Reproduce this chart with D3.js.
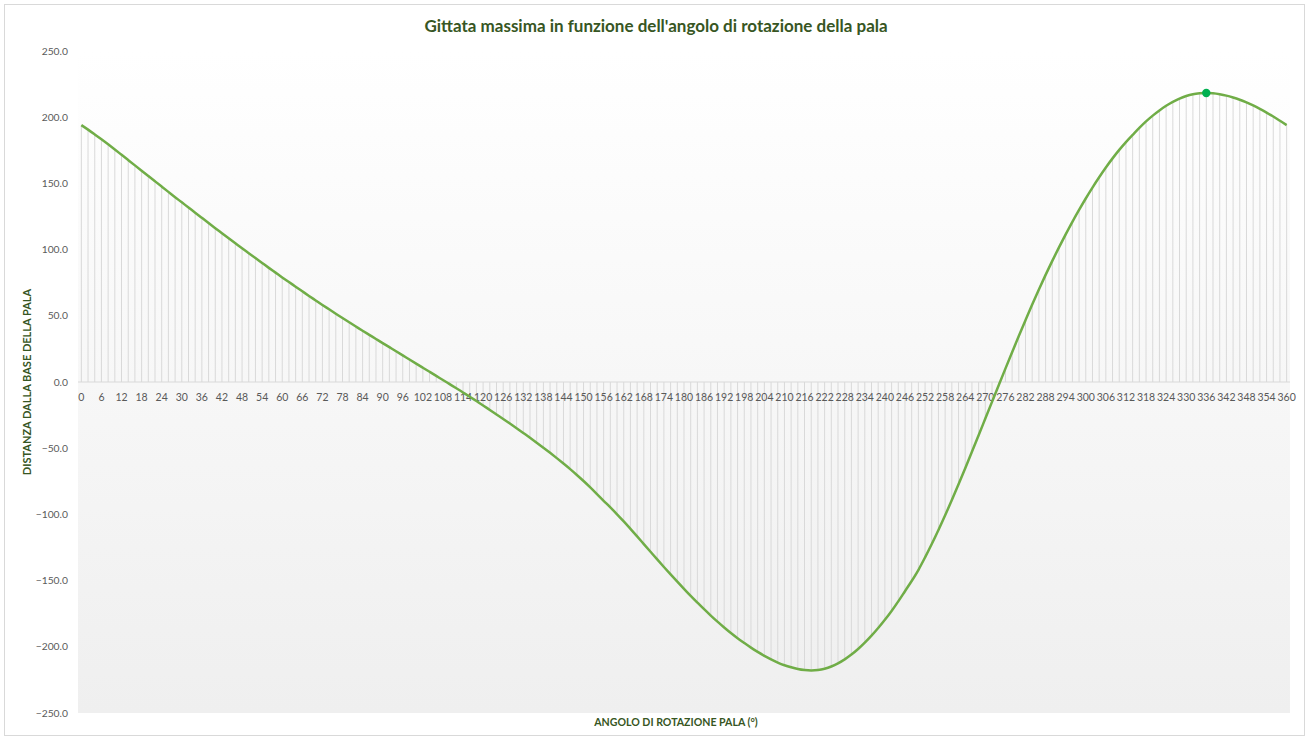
<!DOCTYPE html>
<html>
<head>
<meta charset="utf-8">
<script src="https://cdn.jsdelivr.net/npm/d3@7"></script>
<style>
  body { margin: 0; background: #ffffff; }
  svg text { font-family: Lato, "Open Sans", sans-serif; }
</style>
</head>
<body>
<div id="chart"></div>
<script>
// angle of the blade (degrees), one category every 2 degrees
let angles = d3.range(0, 361, 2);

// max throw distance from the blade base
let gittata = [
  194.0, 190.6, 187.0, 183.3, 179.5, 175.6, 171.6, 167.6, 163.6, 159.6,
  155.6, 151.6, 147.6, 143.6, 139.6, 135.7, 131.8, 127.9, 124.0, 120.1,
  116.2, 112.4, 108.6, 104.8, 101.0, 97.3, 93.6, 89.9, 86.2, 82.6,
  79.0, 75.5, 72.0, 68.5, 65.0, 61.6, 58.2, 54.9, 51.6, 48.3,
  45.1, 41.9, 38.7, 35.6, 32.5, 29.4, 26.3, 23.2, 20.1, 17.0,
  13.9, 10.8, 7.7, 4.6, 1.5, -1.6, -4.7, -7.9, -11.1, -14.4,
  -17.7, -21.1, -24.5, -27.9, -31.4, -34.9, -38.5, -42.1, -45.8, -49.6,
  -53.5, -57.5, -61.6, -65.8, -70.2, -74.8, -79.6, -84.6, -89.7, -94.7,
  -99.9, -105.3, -110.9, -116.6, -122.4, -128.2, -134.0, -139.7, -145.3, -150.8,
  -156.2, -161.5, -166.6, -171.6, -176.4, -181.0, -185.4, -189.6, -193.5, -197.1,
  -200.6, -203.8, -206.8, -209.5, -211.9, -213.9, -215.5, -216.8, -217.6, -217.9,
  -217.6, -216.6, -214.9, -212.5, -209.5, -205.9, -201.7, -196.9, -191.6, -185.8,
  -179.6, -172.9, -165.7, -158.0, -150.3, -142.0, -132.5, -122.4, -111.8, -100.7,
  -89.2, -77.3, -65.1, -52.7, -40.2, -27.6, -15.0, -2.4, 10.1, 22.5,
  34.7, 46.7, 58.5, 69.9, 80.9, 91.5, 101.7, 111.5, 121.0, 130.0,
  138.6, 146.8, 154.6, 162.0, 168.9, 175.3, 181.2, 186.6, 191.9, 196.8,
  201.2, 205.1, 208.6, 211.6, 214.1, 216.0, 217.3, 218.0, 218.3, 218.0,
  217.3, 216.3, 214.9, 213.2, 211.2, 208.9, 206.3, 203.5, 200.5, 197.3,
  194.0
];

// highlighted point (maximum)
let maxAngle = 336;

let xTickLabels = d3.range(0, 361, 6);
let yTicks = [-250, -200, -150, -100, -50, 0, 50, 100, 150, 200, 250];

let titleText = "Gittata massima in funzione dell'angolo di rotazione della pala";
let xTitle = "ANGOLO DI ROTAZIONE PALA (°)";
let yTitle = "DISTANZA DALLA BASE DELLA PALA";

let W = 1309, H = 740;
let plot = { left: 78, right: 1290, top: 51, bottom: 713 };

let data = angles.map(function(a, i) { return { angle: a, value: gittata[i] }; });

let svg = d3.select("#chart").append("svg")
  .attr("width", W)
  .attr("height", H);

// chart border
svg.append("rect")
  .attr("x", 4.5).attr("y", 4.5)
  .attr("width", W - 9).attr("height", H - 9)
  .attr("fill", "#ffffff")
  .attr("stroke", "#d9d9d9");

let defs = svg.append("defs");
let grad = defs.append("linearGradient")
  .attr("id", "bg").attr("x1", 0).attr("y1", 0).attr("x2", 0).attr("y2", 1);
grad.append("stop").attr("offset", "0%").attr("stop-color", "#ffffff");
grad.append("stop").attr("offset", "100%").attr("stop-color", "#efefef");

let xScale = d3.scalePoint()
  .domain(angles)
  .range([plot.left, plot.right])
  .padding(0.5);

let yScale = d3.scaleLinear()
  .domain([-250, 250])
  .range([plot.bottom, plot.top]);

// plot area background
svg.append("rect")
  .attr("x", plot.left).attr("y", plot.top)
  .attr("width", plot.right - plot.left)
  .attr("height", plot.bottom - plot.top)
  .attr("fill", "url(#bg)");

// drop lines
svg.append("g")
  .selectAll("line")
  .data(data)
  .enter()
  .append("line")
  .attr("x1", function(d) { return xScale(d.angle); })
  .attr("x2", function(d) { return xScale(d.angle); })
  .attr("y1", yScale(0))
  .attr("y2", function(d) { return yScale(d.value); })
  .attr("stroke", "#d9d9d9")
  .attr("stroke-width", 1);

// category axis at 0
svg.append("line")
  .attr("x1", plot.left).attr("x2", plot.right)
  .attr("y1", yScale(0)).attr("y2", yScale(0))
  .attr("stroke", "#d9d9d9")
  .attr("stroke-width", 1);

// y tick labels
svg.append("g")
  .selectAll("text")
  .data(yTicks)
  .enter()
  .append("text")
  .attr("x", 68)
  .attr("y", function(d) { return yScale(d); })
  .attr("dy", "0.35em")
  .attr("text-anchor", "end")
  .attr("font-size", "10.3px")
  .attr("fill", "#595959")
  .text(function(d) { return d3.format(".1f")(d); });

// x tick labels
svg.append("g")
  .selectAll("text")
  .data(xTickLabels)
  .enter()
  .append("text")
  .attr("x", function(d) { return xScale(d); })
  .attr("y", yScale(0) + 19)
  .attr("text-anchor", "middle")
  .attr("font-size", "10.5px")
  .attr("fill", "#595959")
  .text(function(d) { return d; });

// the line
let line = d3.line()
  .curve(d3.curveCatmullRom.alpha(0.5))
  .x(function(d) { return xScale(d.angle); })
  .y(function(d) { return yScale(d.value); });

svg.append("path")
  .datum(data)
  .attr("d", line)
  .attr("fill", "none")
  .attr("stroke", "#70ad47")
  .attr("stroke-width", 2.5)
  .attr("stroke-linejoin", "round");

// max marker
let maxPoint = data.filter(function(d) { return d.angle === maxAngle; })[0];
svg.append("circle")
  .attr("cx", xScale(maxPoint.angle))
  .attr("cy", yScale(maxPoint.value))
  .attr("r", 4.2)
  .attr("fill", "#00b050");

// titles
svg.append("text")
  .attr("x", 656)
  .attr("y", 32)
  .attr("text-anchor", "middle")
  .attr("font-size", "17px")
  .attr("font-weight", "bold")
  .attr("fill", "#375623")
  .text(titleText);

svg.append("text")
  .attr("x", 676)
  .attr("y", 726)
  .attr("text-anchor", "middle")
  .attr("font-size", "10.6px")
  .attr("font-weight", "bold")
  .attr("fill", "#375623")
  .text(xTitle);

svg.append("text")
  .attr("transform", "translate(31," + yScale(0) + ") rotate(-90)")
  .attr("text-anchor", "middle")
  .attr("font-size", "11px")
  .attr("font-weight", "bold")
  .attr("fill", "#375623")
  .text(yTitle);
</script>
</body>
</html>
